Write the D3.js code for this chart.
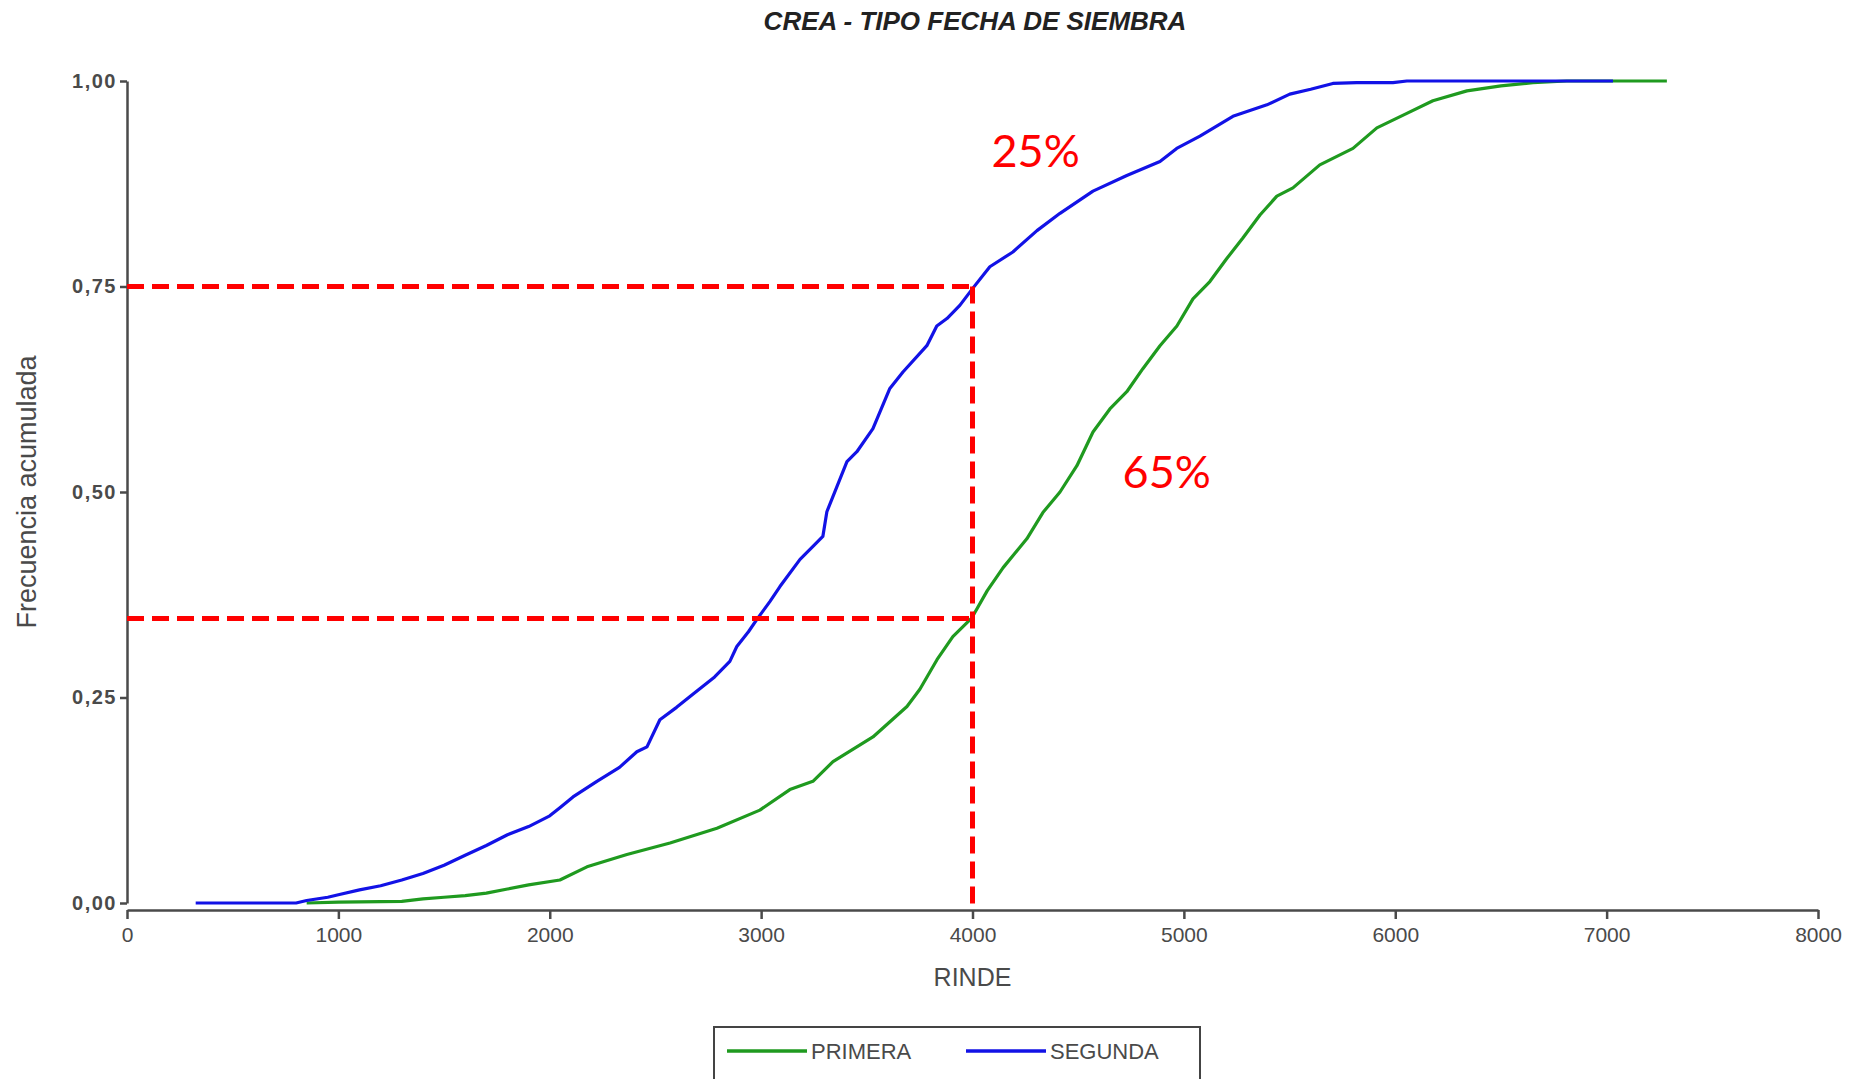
<!DOCTYPE html>
<html>
<head>
<meta charset="utf-8">
<script src="https://cdn.jsdelivr.net/npm/d3@7"></script>
<style>
  html, body { margin: 0; padding: 0; background: #fff; }
  svg { display: block; font-family: "Liberation Sans", Arial, sans-serif; }
  .axis path, .axis line { stroke: #4a4a4a; stroke-width: 2.5px; }
  .axis text { fill: #4a4a4a; }
</style>
</head>
<body>
<div id="chart"></div>
<script>
// Series values
const segundaX = [325, 800, 850, 950, 1000, 1100, 1200, 1300, 1400, 1500, 1600, 1700, 1800, 1900, 2000, 2048, 2110, 2223, 2330, 2412, 2460, 2521, 2600, 2677, 2780, 2852, 2885, 2940, 2980, 3042, 3089, 3184, 3250, 3292, 3311, 3406, 3453, 3529, 3609, 3671, 3784, 3831, 3879, 3940, 4002, 4082, 4191, 4305, 4414, 4570, 4730, 4887, 4966, 5076, 5232, 5393, 5501, 5600, 5705, 5818, 5989, 6055, 7030];
const segundaY = [0, 0, 0.003, 0.007, 0.01, 0.016, 0.021, 0.028, 0.036, 0.046, 0.058, 0.07, 0.083, 0.093, 0.106, 0.116, 0.129, 0.148, 0.165, 0.184, 0.19, 0.223, 0.238, 0.254, 0.275, 0.294, 0.312, 0.33, 0.345, 0.367, 0.385, 0.418, 0.435, 0.446, 0.476, 0.537, 0.549, 0.577, 0.626, 0.646, 0.678, 0.702, 0.711, 0.727, 0.748, 0.774, 0.792, 0.818, 0.839, 0.866, 0.885, 0.902, 0.918, 0.933, 0.957, 0.971, 0.984, 0.99, 0.997, 0.998, 0.998, 1, 1];

const primeraX = [850, 1000, 1300, 1400, 1500, 1600, 1700, 1800, 1900, 2048, 2176, 2365, 2569, 2791, 2994, 3136, 3245, 3340, 3529, 3690, 3751, 3832, 3907, 3997, 4070, 4145, 4257, 4333, 4414, 4494, 4570, 4650, 4730, 4806, 4887, 4967, 5043, 5123, 5203, 5279, 5360, 5440, 5516, 5643, 5800, 5913, 6050, 6178, 6339, 6500, 6651, 6812, 7285];
const primeraY = [0, 0.001, 0.002, 0.005, 0.007, 0.009, 0.012, 0.017, 0.022, 0.028, 0.044, 0.059, 0.073, 0.091, 0.113, 0.138, 0.148, 0.172, 0.202, 0.239, 0.26, 0.296, 0.324, 0.347, 0.38, 0.408, 0.443, 0.475, 0.5, 0.532, 0.573, 0.601, 0.622, 0.65, 0.678, 0.702, 0.735, 0.756, 0.784, 0.809, 0.837, 0.86, 0.87, 0.898, 0.918, 0.943, 0.96, 0.976, 0.988, 0.994, 0.998, 1, 1];

// Tick values
const xTicks = [0, 1000, 2000, 3000, 4000, 5000, 6000, 7000, 8000];
const yTicks = [0, 0.25, 0.5, 0.75, 1];

// Reference guides and notes
const guideRinde = 4000;
const guideLevels = [0.75, 0.346];
const notes = [
  { text: "25%", x: 4090, y: 0.895 },
  { text: "65%", x: 4710, y: 0.505 }
];

const series = [
  { name: "PRIMERA", color: "#1f9a1f", xs: primeraX, ys: primeraY },
  { name: "SEGUNDA", color: "#1212e6", xs: segundaX, ys: segundaY }
];

const W = 1857, H = 1079;
const svg = d3.select("#chart").append("svg")
  .attr("width", W).attr("height", H);

const x = d3.scaleLinear().domain([0, 8000]).range([127, 1818]);
const y = d3.scaleLinear().domain([0, 1]).range([903, 81]);
const xAxisY = 910;

const locale = d3.formatLocale({ decimal: ",", thousands: "", grouping: [3], currency: ["", ""] });
const fmtY = locale.format(".2f");

// Title
svg.append("text")
  .attr("x", 975).attr("y", 30)
  .attr("text-anchor", "middle")
  .style("font-size", "26px")
  .style("font-weight", "bold")
  .style("font-style", "italic")
  .style("fill", "#222")
  .text("CREA - TIPO FECHA DE SIEMBRA");

// Axes
const yAxisG = svg.append("g").attr("class", "axis")
  .attr("transform", `translate(${x(0)},0)`)
  .call(d3.axisLeft(y).tickValues(yTicks).tickFormat(fmtY).tickSize(7).tickSizeOuter(0));
yAxisG.selectAll("text")
  .attr("x", -10)
  .style("font-size", "20px")
  .style("font-weight", "bold")
  .style("letter-spacing", "1.5px");

const xAxisG = svg.append("g").attr("class", "axis")
  .attr("transform", `translate(0,${xAxisY})`)
  .call(d3.axisBottom(x).tickValues(xTicks).tickFormat(d3.format("d")).tickSize(9).tickSizeOuter(0));
xAxisG.selectAll("text")
  .attr("y", 17)
  .style("font-size", "21px");

svg.append("text")
  .attr("x", x(4000)).attr("y", 986)
  .attr("text-anchor", "middle")
  .style("font-size", "25px")
  .style("fill", "#4a4a4a")
  .text("RINDE");

svg.append("text")
  .attr("transform", `translate(36,${(y(0) + y(1)) / 2}) rotate(-90)`)
  .attr("text-anchor", "middle")
  .style("font-size", "27px")
  .style("fill", "#4a4a4a")
  .text("Frecuencia acumulada");

// Curves
const line = d3.line().x(d => x(d[0])).y(d => y(d[1]));
svg.append("g").selectAll("path")
  .data(series)
  .join("path")
  .attr("d", s => line(s.xs.map((v, i) => [v, s.ys[i]])))
  .attr("fill", "none")
  .attr("stroke", s => s.color)
  .attr("stroke-width", 3.2)
  .attr("stroke-linejoin", "round");

// Red dashed guides
const guides = svg.append("g")
  .attr("stroke", "#ff0000")
  .attr("stroke-width", 5)
  .attr("stroke-dasharray", "17,8");
guides.selectAll("line.h")
  .data(guideLevels)
  .join("line")
  .attr("class", "h")
  .attr("x1", x(0)).attr("x2", x(guideRinde))
  .attr("y1", d => y(d)).attr("y2", d => y(d));
guides.append("line")
  .attr("x1", x(guideRinde)).attr("x2", x(guideRinde))
  .attr("y1", y(d3.max(guideLevels))).attr("y2", xAxisY);

svg.append("g").selectAll("text")
  .data(notes)
  .join("text")
  .attr("x", d => x(d.x)).attr("y", d => y(d.y))
  .style("font-family", "Lato, 'Open Sans', sans-serif")
  .style("font-size", "45px")
  .style("fill", "#ff0000")
  .text(d => d.text);

// Legend
const legend = svg.append("g");
legend.append("rect")
  .attr("x", 714).attr("y", 1027)
  .attr("width", 486).attr("height", 70)
  .attr("fill", "#fff")
  .attr("stroke", "#444")
  .attr("stroke-width", 2);
const legendPos = [727, 966];
const item = legend.selectAll("g.item")
  .data(series)
  .join("g")
  .attr("class", "item")
  .attr("transform", (d, i) => `translate(${legendPos[i]},1051)`);
item.append("line")
  .attr("x1", 0).attr("x2", 80)
  .attr("stroke", d => d.color)
  .attr("stroke-width", 3.5);
item.append("text")
  .attr("x", 84).attr("y", 8)
  .style("font-size", "22px")
  .style("fill", "#4a4a4a")
  .text(d => d.name);
</script>
</body>
</html>
